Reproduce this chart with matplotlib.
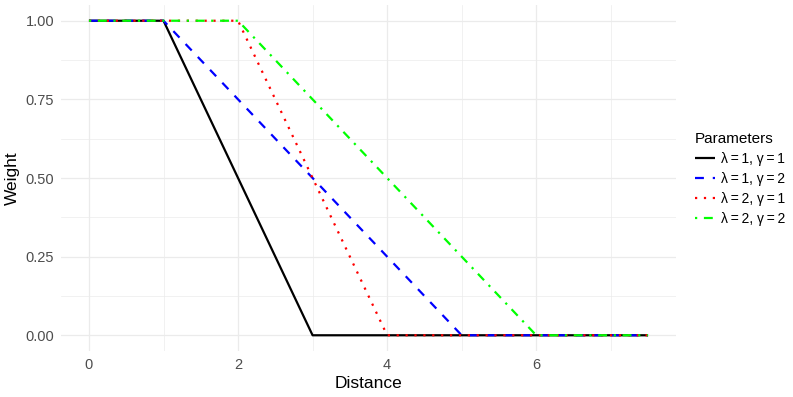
import numpy as np
import matplotlib.pyplot as plt
from matplotlib.ticker import MultipleLocator

plt.rcParams['font.family'] = ['Liberation Sans', 'DejaVu Sans']

# breakpoints of each weight curve: (distance, weight)
x_l1g1 = [0, 1, 3, 7.5]
y_l1g1 = [1, 1, 0, 0]
x_l1g2 = [0, 1, 5, 7.5]
y_l1g2 = [1, 1, 0, 0]
x_l2g1 = [0, 2, 4, 7.5]
y_l2g1 = [1, 1, 0, 0]
x_l2g2 = [0, 2, 6, 7.5]
y_l2g2 = [1, 1, 0, 0]
labels = ["λ\u2009=\u20091, γ\u2009=\u20091", "λ\u2009=\u20091, γ\u2009=\u20092",
          "λ\u2009=\u20092, γ\u2009=\u20091", "λ\u2009=\u20092, γ\u2009=\u20092"]

fig = plt.figure(figsize=(7.93, 3.97), dpi=100)
ax = fig.add_axes([61/793, 46/397, 615/793, 346/397])

lw = 1.6
ax.plot(x_l1g1, y_l1g1, color='black', lw=lw, solid_capstyle='butt', label=labels[0])
ax.plot(x_l1g2, y_l1g2, color='blue', lw=lw, dashes=(4, 4), dash_capstyle='butt', label=labels[1])
ax.plot(x_l2g1, y_l2g1, color='red', lw=lw, dashes=(1, 3), dash_capstyle='butt', label=labels[2])
ax.plot(x_l2g2, y_l2g2, color='#00FF00', lw=lw, dashes=(1, 3, 4, 3), dash_capstyle='butt', label=labels[3])

ax.set_xlim(-0.375, 7.875)
ax.set_ylim(-0.05, 1.05)
ax.xaxis.set_major_locator(MultipleLocator(2))
ax.xaxis.set_minor_locator(MultipleLocator(1))
ax.yaxis.set_major_locator(MultipleLocator(0.25))
ax.yaxis.set_minor_locator(MultipleLocator(0.125))
ax.yaxis.set_major_formatter(lambda v, p: f"{v:.2f}")
ax.grid(which='major', color='#EBEBEB', lw=0.9)
ax.grid(which='minor', color='#EBEBEB', lw=0.5)
ax.set_axisbelow(True)
for s in ax.spines.values():
    s.set_visible(False)
ax.tick_params(which='both', length=0, labelsize=10.5, labelcolor='#4D4D4D', pad=5)
ax.set_xlabel("Distance", fontsize=12.5, labelpad=3)
ax.set_ylabel("Weight", fontsize=12.5, labelpad=4)

leg = fig.legend(loc='center left', bbox_to_anchor=(682/793, 1 - 179/397), frameon=False,
                 title="Parameters", fontsize=10, title_fontsize=11,
                 handlelength=1.5, handletextpad=0.4, labelspacing=0.42)
leg._legend_box.align = 'left'

fig.savefig('out.png', dpi=100)
